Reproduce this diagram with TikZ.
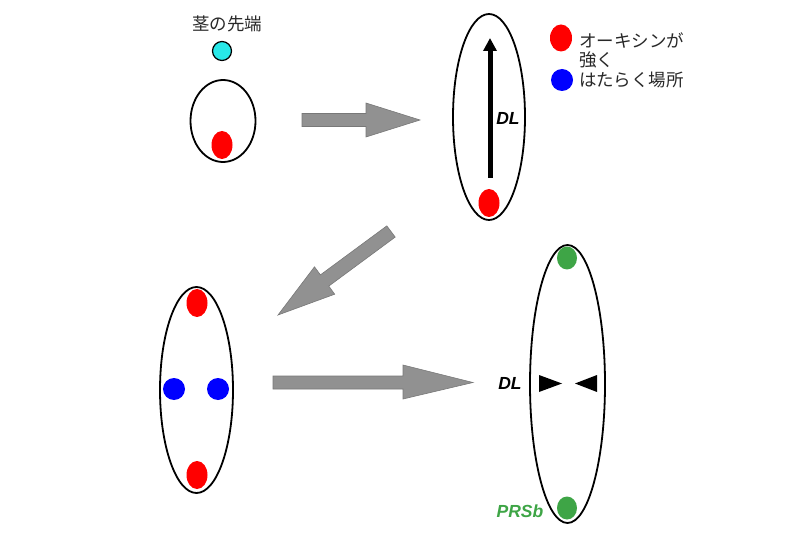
\documentclass[tikz,border=0pt]{standalone}
\usepackage{fontspec}
\setmainfont{Liberation Sans}
\newfontfamily\jp{Noto Sans CJK JP}
\usetikzlibrary{shapes.geometric,arrows.meta}
\definecolor{arrowgray}{RGB}{145,145,145}
\definecolor{arrowedge}{RGB}{120,120,120}
\definecolor{prsgreen}{RGB}{62,165,70}
\definecolor{tipcyan}{RGB}{40,232,232}
\definecolor{txtgray}{RGB}{40,40,40}
\begin{document}
\begin{tikzpicture}[x=1pt,y=-1pt,
  outline/.style={draw=black, line width=1.8pt, ellipse, inner sep=0pt},
  reddot/.style={ellipse, fill=red, inner sep=0pt, minimum width=21pt, minimum height=28pt},
  bluedot/.style={circle, fill=blue, inner sep=0pt, minimum size=22pt},
  greendot/.style={ellipse, fill=prsgreen, inner sep=0pt, minimum width=20pt, minimum height=23pt},
  bigarrow/.style={fill=arrowgray, draw=arrowedge, line width=0.6pt, line join=miter},
  lbl/.style={font=\fontsize{17.5}{20}\selectfont\bfseries\itshape, inner sep=0pt},
  jptext/.style={font=\jp\fontsize{17.5}{22}\selectfont, text=txtgray, inner sep=0pt, anchor=west}]
\useasboundingbox (0,0) rectangle (800,537);

% panel 1
\node[jptext, anchor=center] (tiplabel) at (227,24) {茎の先端};
\node[circle, draw=black, line width=1.2pt, fill=tipcyan, minimum size=19pt, inner sep=0pt] (apex) at (222,51) {};
\node[outline, minimum width=65pt, minimum height=82pt] (c1) at (223,121) {};
\node[reddot] (r1) at (222,145) {};

% arrow 1
\draw[bigarrow] (302,113.5) -- (366,113.5) -- (366,103) -- (420,120) -- (366,137) -- (366,126.5) -- (302,126.5) -- cycle;

% panel 2
\node[outline, minimum width=72pt, minimum height=206pt] (c2) at (489,117) {};
\node[reddot] (r2) at (489,203) {};
\coordinate (dlbot) at (490,178);
\coordinate (dltop) at (490,38);
\draw[line width=5pt, -{Triangle[length=13pt,width=13pt]}] (dlbot) -- (dltop);
\node[lbl] (dl1) at (508,118) {DL};

% legend
\node[reddot, minimum width=22pt, minimum height=27pt] (lr) at (561,38) {};
\node[bluedot] (lb) at (562,80) {};
\node[jptext] (l1) at (579,40) {オーキシンが};
\node[jptext] (l2) at (579,60) {強く};
\node[jptext] (l3) at (579,80) {はたらく場所};

% arrow 2
\draw[bigarrow] (386.8,225.9) -- (320.4,274.9) -- (314.5,266.8) -- (278,315) -- (334.7,294.2) -- (328.8,286.1) -- (395.2,237.1) -- cycle;

% panel 3
\node[outline, minimum width=73pt, minimum height=206pt] (c3) at (196.5,390) {};
\node[reddot] (r3a) at (197,303) {};
\node[reddot] (r3b) at (197,475) {};
\node[bluedot] (b3a) at (174,389) {};
\node[bluedot] (b3b) at (218,389) {};

% arrow 3
\draw[bigarrow] (273,376) -- (403,376) -- (403,365) -- (473,382.5) -- (403,399) -- (403,389) -- (273,389) -- cycle;

% panel 4
\node[outline, minimum width=75pt, minimum height=278pt] (c4) at (567.5,384) {};
\node[greendot] (g4a) at (567,258) {};
\node[greendot] (g4b) at (567,508) {};
\fill (539,375) -- (562,383.5) -- (539,392) -- cycle;
\fill (597,375) -- (575,383.5) -- (597,392) -- cycle;
\node[lbl] (dl2) at (510,383) {DL};
\node[lbl, text=prsgreen] (prs) at (520,511) {PRSb};
\end{tikzpicture}
\end{document}
